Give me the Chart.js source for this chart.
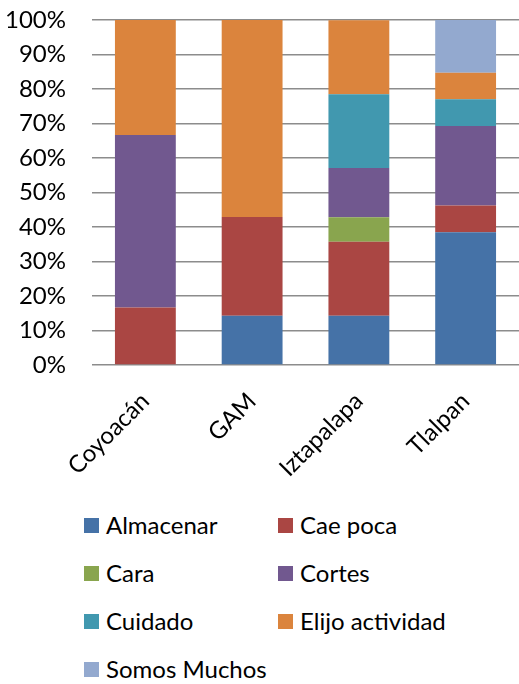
<!DOCTYPE html>
<html>
<head>
<meta charset="utf-8">
<script src="https://cdn.jsdelivr.net/npm/chart.js@4"></script>
<style>
  body { margin: 0; background: #fff; font-family: Lato, "Open Sans", sans-serif; }
  #wrap { position: relative; width: 519px; height: 684px; }
  #chart { position: absolute; left: 0; top: 0; }
  #legend { position: absolute; left: 84px; top: 505px; width: 420px; }
  .item { position: absolute; font-size: 24px; color: #000; line-height: 40px; white-space: nowrap; }
  .sw { display: inline-block; width: 15px; height: 15px; margin-right: 7px; vertical-align: 1px; }
</style>
</head>
<body>
<div id="wrap">
  <canvas id="chart" width="519" height="490"></canvas>
  <div id="legend"></div>
</div>
<script>
// categorías
const alcaldias = ['Coyoacán', 'GAM', 'Iztapalapa', 'Tlalpan'];

// porcentajes por serie (apilado al 100%)
const almacenar = [0, 14.3, 14.3, 38.5];
const caePoca = [16.7, 28.6, 21.4, 7.7];
const cara = [0, 0, 7.1, 0];
const cortes = [50, 0, 14.3, 23.1];
const cuidado = [0, 0, 21.4, 7.7];
const elijoActividad = [33.3, 57.1, 21.4, 7.7];
const somosMuchos = [0, 0, 0, 15.3];

const series = ['Almacenar', 'Cae poca', 'Cara', 'Cortes', 'Cuidado', 'Elijo actividad', 'Somos Muchos'];
const valores = [almacenar, caePoca, cara, cortes, cuidado, elijoActividad, somosMuchos];
const colores = ['#4572A7', '#AA4643', '#89A54E', '#71588F', '#4198AF', '#DB843D', '#93A9CF'];

const yTicks = [0, 10, 20, 30, 40, 50, 60, 70, 80, 90, 100];

const datasets = series.map((s, i) => ({
    label: s,
    data: valores[i],
    backgroundColor: colores[i],
    borderWidth: 0,
    categoryPercentage: 1,
    barPercentage: 0.57
}));

new Chart(document.getElementById('chart'), {
    type: 'bar',
    data: { labels: alcaldias, datasets: datasets },
    options: {
        responsive: false,
        animation: false,
        layout: { padding: { top: 20, right: 0, left: 0, bottom: 0 } },
        plugins: { legend: { display: false }, tooltip: { enabled: false } },
        scales: {
            x: {
                stacked: true,
                grid: { display: false },
                border: { display: false },
                ticks: {
                    color: '#000',
                    font: { family: 'Lato', size: 24 },
                    minRotation: 45,
                    maxRotation: 45,
                    padding: 14
                },
                afterFit: s => {
                    s.height = 125;
                    s.paddingLeft = 0;
                    s.paddingRight = 0;
                }
            },
            y: {
                stacked: true,
                min: 0,
                max: 100,
                afterBuildTicks: axis => { axis.ticks = yTicks.map(v => ({ value: v })); },
                grid: { color: '#8c8c8c', lineWidth: 1.5, drawTicks: false },
                border: { display: false },
                ticks: {
                    color: '#000',
                    font: { family: 'Lato', size: 24 },
                    padding: 26,
                    callback: v => v + '%'
                },
                afterFit: s => {
                    s.width = 92;
                    s.paddingTop = 0;
                    s.paddingBottom = 0;
                }
            }
        }
    }
});

// leyenda en dos columnas
const legend = document.getElementById('legend');
series.forEach((s, i) => {
    const el = document.createElement('div');
    el.className = 'item';
    el.style.left = (i % 2 ? 194 : 0) + 'px';
    el.style.top = (Math.floor(i / 2) * 48) + 'px';
    el.innerHTML = '<span class="sw" style="background:' + colores[i] + '"></span>' + s;
    legend.appendChild(el);
});
</script>
</body>
</html>
